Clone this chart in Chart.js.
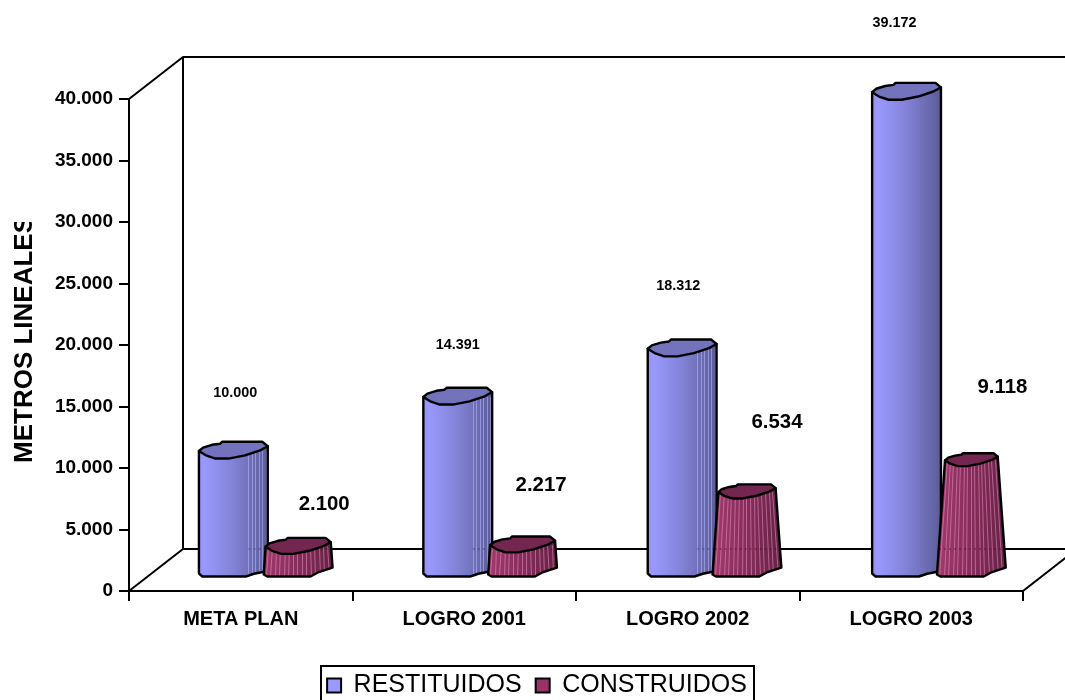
<!DOCTYPE html>
<html>
<head>
<meta charset="utf-8">
<title>Metros lineales</title>
<script src="https://cdn.jsdelivr.net/npm/chart.js@4"></script>
<style>
    html, body { margin: 0; padding: 0; background: #fff; overflow: hidden; }
    canvas { display: block; }
</style>
</head>
<body>
<canvas id="chart" width="1065" height="700"></canvas>
<script>
const categories = ["META PLAN", "LOGRO 2001", "LOGRO 2002", "LOGRO 2003"];
const restituidos = [10000, 14391, 18312, 39172];
const construidos = [2100, 2217, 6534, 9118];
const yTicks = [0, 5000, 10000, 15000, 20000, 25000, 30000, 35000, 40000];

// the value labels sit at odd places in the original, so shift each one by hand
const resLabelShift = [[2, -61], [0, -55], [-4, -66], [-12, -73]];
const conLabelShift = [[26, -47], [18.5, -65], [30, -75], [31, -78]];

const FONT = '"Liberation Sans", Arial, sans-serif';
const DEPTH_X = 54, DEPTH_Y = 42;
const BAR_DX = 25, BAR_DY = 13.5, BAR_SPREAD = .9;

// outline of the top cap, as fractions of the bar width
const capShape = [[0, 0], [.06, -.05], [.19, -.09], [.31, -.106], [.34, -.135], [.92, -.135], [1, -.07],
    [.89, -.01], [.67, .063], [.43, .11], [.24, .11], [.10, .063]];

function formatValue(v) {
    return String(v).replace(/\B(?=(\d{3})+$)/g, ".");
}

function drawWall(ctx, chart) {
    const a = chart.chartArea;
    ctx.save();
    ctx.strokeStyle = "#000";
    ctx.lineWidth = 2;
    ctx.lineJoin = "round";
    ctx.beginPath();
    ctx.moveTo(a.left, a.top);
    ctx.lineTo(a.left + DEPTH_X, a.top - DEPTH_Y);
    ctx.lineTo(a.right + DEPTH_X, a.top - DEPTH_Y);
    ctx.moveTo(a.left + DEPTH_X, a.top - DEPTH_Y);
    ctx.lineTo(a.left + DEPTH_X, a.bottom - DEPTH_Y);
    ctx.lineTo(a.right + DEPTH_X, a.bottom - DEPTH_Y);
    ctx.lineTo(a.right, a.bottom);
    ctx.moveTo(a.left, a.bottom);
    ctx.lineTo(a.left + DEPTH_X, a.bottom - DEPTH_Y);
    ctx.stroke();
    ctx.restore();
}

function drawCylinder(ctx, chart, bar, i, style) {
    const w = bar.width + 4;
    const cx = bar.x + BAR_DX + i * BAR_SPREAD;
    const bottom = bar.base - BAR_DY;
    const h = bar.base - bar.y;
    const top = bottom - h + style.capLift;
    const topW = style.taper ? w - h * style.taper : w;
    const x0 = cx - w / 2, x1 = cx + w / 2;
    const t0 = cx - topW / 2, t1 = cx + topW / 2;

    const body = new Path2D();
    body.moveTo(t0, top);
    body.lineTo(x0, bottom - style.leftRise);
    body.lineTo(x0 + w * .05, bottom);
    body.lineTo(x0 + w * .68, bottom);
    body.lineTo(x0 + w * .8, bottom - w * style.rightRise * .5);
    body.lineTo(x1, bottom - w * style.rightRise);
    body.lineTo(t1, top - topW * .07);
    body.closePath();

    const grad = ctx.createLinearGradient(x0, 0, x1, 0);
    style.stops.forEach(s => grad.addColorStop(s[0], s[1]));
    ctx.save();
    ctx.fillStyle = grad;
    ctx.fill(body);

    ctx.save();
    ctx.clip(body);
    if (style.striped(h)) {
        ctx.strokeStyle = style.stripeColor;
        ctx.lineWidth = 1;
        ctx.beginPath();
        for (let u = style.stripeFrom; u < 1; u += style.stripeStep / w) {
            ctx.moveTo(Math.round(x0 + u * w) + .5, bottom);
            ctx.lineTo(Math.round(t0 + u * topW) + .5, top);
        }
        ctx.stroke();
        // the floor line of the wall shows through faintly
        const floor = chart.chartArea.bottom - DEPTH_Y;
        if (top < floor) {
            ctx.strokeStyle = style.floorColor;
            ctx.setLineDash([2, 3]);
            ctx.beginPath();
            ctx.moveTo(x0 + style.stripeFrom * w, floor);
            ctx.lineTo(x1, floor);
            ctx.stroke();
        }
    }
    ctx.restore();

    ctx.strokeStyle = "#000";
    ctx.lineWidth = 2.4;
    ctx.lineJoin = "round";
    ctx.stroke(body);

    ctx.beginPath();
    capShape.forEach((p, k) => {
        const px = t0 + p[0] * topW, py = top + p[1] * topW;
        if (k === 0) ctx.moveTo(px, py); else ctx.lineTo(px, py);
    });
    ctx.closePath();
    ctx.fillStyle = style.capColor;
    ctx.fill();
    ctx.stroke();
    ctx.restore();
}

const resStyle = {
    capLift: -3.5, taper: 0, leftRise: 3, rightRise: .08,
    stops: [[0, "#9393f2"], [.08, "#9999ff"], [.5, "#8282d6"], [1, "#5c5c99"]],
    capColor: "#7272bd",
    striped: h => h < 300, stripeFrom: .72, stripeStep: 3.5,
    stripeColor: "rgba(185,185,255,.55)", floorColor: "rgba(50,50,110,.7)"
};
const conStyle = {
    capLift: -5, taper: .145, leftRise: 2, rightRise: .13,
    stops: [[0, "#a03a6d"], [.5, "#862c5b"], [1, "#642345"]],
    capColor: "#73264f",
    striped: () => true, stripeFrom: .03, stripeStep: 4.5,
    stripeColor: "rgba(228,140,185,.6)", floorColor: "rgba(50,15,35,.7)"
};

function drawTexts(ctx, chart) {
    ctx.save();
    ctx.fillStyle = "#000";
    ctx.textAlign = "center";
    ctx.textBaseline = "middle";
    chart.getDatasetMeta(0).data.forEach((bar, i) => {
        ctx.font = "bold 14.4px " + FONT;
        ctx.fillText(formatValue(restituidos[i]), bar.x + BAR_DX + i * BAR_SPREAD + resLabelShift[i][0], bar.y - BAR_DY + resLabelShift[i][1]);
    });
    chart.getDatasetMeta(1).data.forEach((bar, i) => {
        ctx.font = "bold 20.4px " + FONT;
        ctx.fillText(formatValue(construidos[i]), bar.x + BAR_DX + i * BAR_SPREAD + conLabelShift[i][0], bar.y - BAR_DY + conLabelShift[i][1]);
    });
    // axis title runs out of its box in the original and loses the end of the last letter
    ctx.beginPath();
    ctx.rect(0, 222, 60, 300);
    ctx.clip();
    ctx.translate(32, 463);
    ctx.rotate(-Math.PI / 2);
    ctx.textAlign = "left";
    ctx.textBaseline = "alphabetic";
    ctx.font = "bold 26px " + FONT;
    ctx.fillText("METROS LINEALES", 0, 0);
    ctx.restore();
}

// draws the depth wall and the cylinders instead of the flat bars
const cylinders = {
    id: "cylinders",
    beforeDatasetsDraw(chart) {
        const ctx = chart.ctx;
        drawWall(ctx, chart);
        const res = chart.getDatasetMeta(0).data;
        const con = chart.getDatasetMeta(1).data;
        res.forEach((bar, i) => {
            drawCylinder(ctx, chart, bar, i, resStyle);
            drawCylinder(ctx, chart, con[i], i, conStyle);
        });
        return false;
    },
    afterUpdate(chart) {
        const lg = chart.legend;
        const shift = 537 - (lg.left + lg.right) / 2;
        lg.left += shift;
        lg.right += shift;
        const down = 659 - lg.top;
        lg.top += down;
        lg.bottom += down;
    },
    afterDraw(chart) {
        const ctx = chart.ctx;
        drawTexts(ctx, chart);
        ctx.save();
        ctx.strokeStyle = "#000";
        ctx.lineWidth = 2;
        ctx.strokeRect(321, 666, 433, 60);
        ctx.restore();
    }
};

new Chart(document.getElementById("chart").getContext("2d"), {
    type: "bar",
    data: {
        labels: categories,
        datasets: [
            { label: "RESTITUIDOS", data: restituidos, backgroundColor: "#9999FF", borderColor: "#000", borderWidth: 2 },
            { label: "CONSTRUIDOS", data: construidos, backgroundColor: "#993366", borderColor: "#000", borderWidth: 2 }
        ]
    },
    plugins: [cylinders],
    options: {
        responsive: false,
        animation: false,
        layout: { padding: { left: 0, top: 99, right: 42, bottom: 0 } },
        categoryPercentage: .58,
        barPercentage: 1,
        plugins: {
            title: { display: false },
            tooltip: { enabled: false },
            legend: {
                position: "bottom",
                labels: {
                    color: "#000",
                    font: { family: FONT, size: 25 },
                    boxWidth: 14,
                    boxHeight: 14,
                    padding: 14
                }
            }
        },
        scales: {
            x: {
                afterFit: s => { s.height = 700 - 591 - s.chart.legend.height; },
                grid: { drawOnChartArea: false, drawTicks: true, tickLength: 10, color: "#000", lineWidth: 2 },
                border: { color: "#000", width: 2 },
                ticks: {
                    color: "#000",
                    padding: 6,
                    maxRotation: 0,
                    font: { family: FONT, size: 20, weight: "bold" }
                }
            },
            y: {
                min: 0,
                max: 40000,
                afterFit: s => { s.width = 129; },
                afterBuildTicks: s => { s.ticks = yTicks.map(v => ({ value: v })); },
                grid: { drawOnChartArea: false, drawTicks: true, tickLength: 10, color: "#000", lineWidth: 2 },
                border: { color: "#000", width: 2 },
                ticks: {
                    color: "#000",
                    padding: 6,
                    callback: v => formatValue(v),
                    font: { family: FONT, size: 19, weight: "bold" }
                }
            }
        }
    }
});
</script>
</body>
</html>
